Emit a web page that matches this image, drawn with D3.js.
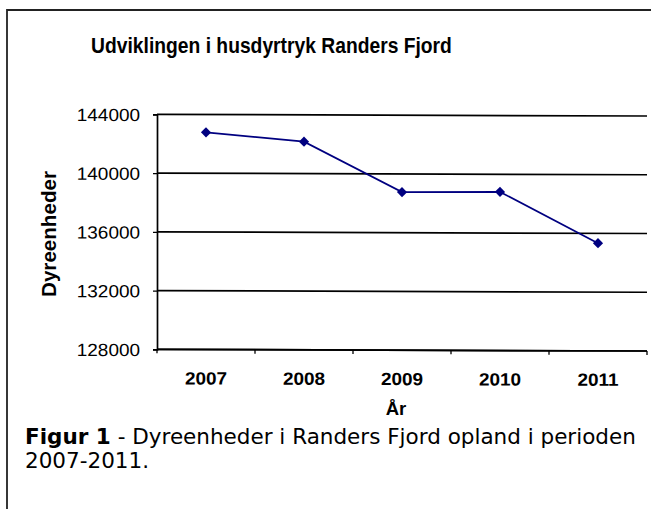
<!DOCTYPE html>
<html><head><meta charset="utf-8">
<script src="https://cdn.jsdelivr.net/npm/d3@7"></script>
<style>body{margin:0;background:#fff}svg{display:block}</style>
</head><body>
<svg id="c" width="651" height="509"></svg>
<script>
const categories = ["2007","2008","2009","2010","2011"];
const values = [142780, 142170, 138760, 138800, 135330];
const yTicks = [128000, 132000, 136000, 140000, 144000];
const title = "Udviklingen i husdyrtryk Randers Fjord";
const yTitle = "Dyreenheder";
const xTitle = "År";
const captionBold = "Figur 1";
const captionRest = " - Dyreenheder i Randers Fjord opland i perioden";
const captionLine2 = "2007-2011.";

const svg = d3.select("#c");
const L = 157, R = 647, T = 114.3, B = 349.3;
const FONT = "Liberation Sans, Arial, sans-serif";

// outer frame
svg.append("path").attr("d","M7,509 L7,10 L651,10").attr("fill","none").attr("stroke","#222").attr("stroke-width",1.8);

// text with fixed font-size, horizontally scaled to a target width
function scaledText(parent, cx, cy, str, fs, targetW, anchor, rot){
  const t = parent.append("text").attr("text-anchor",anchor||"middle")
    .attr("font-family",FONT).attr("font-weight","bold").attr("font-size",fs).attr("fill","#000").text(str);
  const w = t.node().getComputedTextLength();
  const s = targetW ? targetW/w : 1;
  t.attr("transform",`translate(${cx},${cy}) rotate(${rot||0}) scale(${s},1)`);
  return t;
}

scaledText(svg, 271.5, 53.3, title, 21.8, 361);

const x = d3.scaleBand().domain(categories).range([0, R-L]);
const y = d3.scaleLinear().domain([128000,144000]).range([B-T, 0]);

const g = svg.append("g").attr("transform",`translate(${L},${T}) skewY(0.2)`);

// gridlines
g.selectAll(".grid").data(yTicks).join("line")
  .attr("x1",0).attr("x2",R-L).attr("y1",d=>y(d)).attr("y2",d=>y(d))
  .attr("stroke","#000").attr("stroke-width",1.7);

// y axis
const yAxis = d3.axisLeft(y).tickValues(yTicks).tickSize(4).tickPadding(6).tickFormat(d3.format("d"));
const ya = g.append("g").call(yAxis);
ya.select(".domain").attr("stroke","#000").attr("stroke-width",1.7);
ya.selectAll(".tick line").attr("stroke","#000").attr("stroke-width",1.3);
ya.selectAll(".tick text").attr("font-family",FONT).attr("font-size",17.7).attr("fill","#000")
  .attr("x",0).attr("dy","0.36em")
  .attr("transform","translate(-17,0) scale(1.07,1)");

// x axis
const xa = g.append("g").attr("transform",`translate(0,${B-T})`);
xa.append("line").attr("x1",0).attr("x2",R-L).attr("stroke","#000").attr("stroke-width",1.7);
const bounds = categories.map(c=>x(c)).concat([R-L]);
xa.selectAll(".xt").data(bounds).join("line").attr("x1",d=>d).attr("x2",d=>d).attr("y1",0).attr("y2",4).attr("stroke","#000").attr("stroke-width",1.3);
xa.selectAll(".xl").data(categories).join("text")
  .attr("transform",d=>`translate(${x(d)+x.bandwidth()/2},35) scale(1.07,1)`)
  .attr("text-anchor","middle").attr("font-family",FONT).attr("font-weight","bold").attr("font-size",17.7).attr("fill","#000").text(d=>d);

// line
const line = d3.line().x((d,i)=>x(categories[i])+x.bandwidth()/2).y(d=>y(d));
g.append("path").datum(values).attr("d",line).attr("fill","none").attr("stroke","#000080").attr("stroke-width",1.7);
g.selectAll(".pt").data(values).join("path")
  .attr("d", d3.symbol().type(d3.symbolDiamond2).size(66))
  .attr("transform",(d,i)=>`translate(${x(categories[i])+x.bandwidth()/2},${y(d)})`)
  .attr("fill","#000080");

// axis titles
scaledText(svg, 56, 234, yTitle, 20, 126, "middle", -90);
scaledText(svg, 396, 415, xTitle, 18.5, null);

// caption
const cap = svg.append("text").attr("x",25).attr("y",444).attr("font-family","DejaVu Sans, Verdana, sans-serif").attr("font-size",17).attr("fill","#000");
cap.append("tspan").attr("font-weight","bold").text(captionBold);
cap.append("tspan").text(captionRest);
const cw = cap.node().getComputedTextLength();
const capFs = 17*611/cw;
cap.attr("font-size",capFs);
svg.append("text").attr("x",25).attr("y",468).attr("font-family","DejaVu Sans, Verdana, sans-serif").attr("font-size",capFs).attr("fill","#000").text(captionLine2);
</script>
</body></html>
